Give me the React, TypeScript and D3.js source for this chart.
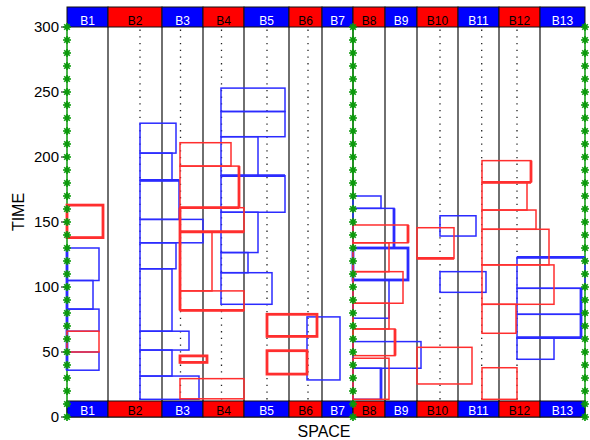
import React from "react";
import * as d3 from "d3";

const width = 590;
const height = 440;
const margin = { top: 27, right: 5, bottom: 23, left: 67 };

// column (bus) names and their edges along SPACE
const columns = ["B1", "B2", "B3", "B4", "B5", "B6", "B7", "B8", "B9", "B10", "B11", "B12", "B13"];
const columnEdges = [0, 41, 95, 136, 177, 222, 255, 286, 318, 350, 391, 432, 473, 518];
const dottedAt = [73, 113.5, 154.5, 200, 241, 373, 414.7, 450];
const greenAt = [0, 286, 518];
const timeTicks = [0, 50, 100, 150, 200, 250, 300];

// boxes: [x0, x1, t0, t1, thick]
const blueBoxes: [number, number, number, number, number][] = [
  [0, 32, 105, 130, 0], [0, 26, 83, 105, 0], [0, 32, 66, 83, 0], [0, 32, 36, 50, 0],
  [73, 109, 203, 226, 0], [73, 105, 182, 203, 0], [73, 112, 152, 182, 0], [73, 136, 134, 152, 0],
  [73, 109, 114, 134, 0], [73, 105, 66, 114, 0], [73, 122, 51.5, 66, 0], [73, 105, 31.5, 51.5, 0],
  [73, 132, 13.6, 31.5, 0],
  [154, 218, 235, 253, 0], [154, 218, 215.6, 235, 0], [154, 191, 185.6, 215.6, 0], [154, 218, 157.5, 185.6, 0],
  [154, 191, 126.5, 157.5, 0], [154, 181, 111, 126.5, 0], [154, 205, 86.7, 111, 0],
  [240, 273, 28.5, 77, 0],
  [286, 314, 160.5, 170, 0], [286, 327, 130, 160.5, 0], [286, 341, 105.4, 130, 1], [286, 322, 76, 105.4, 0],
  [286, 354, 37.5, 58, 0], [286, 314, 13.6, 37.5, 0],
  [373, 409, 139.2, 154.8, 0], [373, 419, 95.9, 111.8, 0],
  [450, 518, 99, 122.8, 0], [450, 514, 79, 99, 0], [450, 514, 61, 79, 0], [450, 487, 44.4, 61, 0],
];

const redBoxes: [number, number, number, number, number][] = [
  [0, 32, 50, 66, 0], [0, 36, 138, 163, 1],
  [113, 164, 193, 211, 0], [113, 172, 161, 193, 0], [113, 177, 142.5, 161, 0], [113, 145, 97, 142.5, 0],
  [113, 177, 82, 97, 0], [113, 140, 42, 47, 1], [113, 177, 14, 29.5, 0],
  [200, 250, 62, 79, 1], [200, 240, 33, 51, 1],
  [286, 341, 134, 147.7, 0], [286, 322, 111.8, 134, 0], [286, 336, 87.5, 111.8, 0], [286, 322, 67.7, 87.5, 0],
  [286, 328, 47.2, 67.7, 0], [286, 322, 13.6, 45.2, 0],
  [350, 387, 122, 145.6, 0], [350, 405, 25.4, 53.6, 0],
  [415, 464, 180.5, 197.2, 0], [415, 460, 159.2, 180.5, 0], [415, 469, 144.4, 159.2, 0], [415, 482, 117, 144.4, 0],
  [415, 487, 86.7, 117, 0], [415, 449, 64.4, 86.7, 0], [415, 450, 13.6, 37.9, 0],
];

// heavier edges: [x0, x1, t0, t1]
const blueThick: [number, number, number, number][] = [
  [73, 112, 182, 182], [154, 218, 185.6, 185.6], [327, 327, 130, 160.5], [314, 314, 13.6, 37.5],
  [450, 518, 122.8, 122.8], [450, 514, 61, 61], [514, 514, 61, 99], [0, 0, 36, 130],
];
const redThick: [number, number, number, number][] = [
  [113, 172, 161, 161], [172, 172, 161, 193], [113, 177, 142.5, 142.5], [113, 177, 82, 82], [113, 113, 82, 161],
  [341, 341, 134, 147.7], [328, 328, 47.2, 67.7], [350, 387, 122, 122], [415, 464, 180.5, 180.5],
  [464, 464, 180.5, 197.2],
];

const BLUE = "#0000ff";
const RED = "#ff0000";
const LINE_BLUE = "#2b2bff";
const LINE_RED = "#ff2e2e";
const GREEN = "#0c9a0c";
const font = "Liberation Sans, Arial, Helvetica, sans-serif";

const Star = ({ x, y }: { x: number; y: number }) => {
  const r = 3.9;
  const arms = d3.range(4).map((i) => (i * Math.PI) / 4);
  return (
    <g>
      {arms.map((a, i) => (
        <line key={i} x1={x - r * Math.cos(a)} y1={y - r * Math.sin(a)} x2={x + r * Math.cos(a)} y2={y + r * Math.sin(a)}
          stroke={GREEN} strokeWidth={1.7} />
      ))}
      <circle cx={x} cy={y} r={1.8} fill={GREEN} />
    </g>
  );
};

export default function App() {
  const x = d3.scaleLinear().domain([0, 518]).range([margin.left, width - margin.right]);
  const y = d3.scaleLinear().domain([0, 300]).range([height - margin.bottom, margin.top]);

  const bandTop = [y(300) - 20, y(300)];
  const bandBottom = [y(0) - 16, y(0)];
  const starTicks = d3.range(0, 301, 10);

  const box = (b: number[], color: string, i: number) => (
    <rect key={i} x={x(b[0])} y={y(b[3])} width={x(b[1]) - x(b[0])} height={y(b[2]) - y(b[3])}
      fill="none" stroke={color} strokeWidth={b[4] ? 2.8 : 1.5} />
  );
  const seg = (s: number[], color: string, i: number) => (
    <line key={i} x1={x(s[0])} x2={x(s[1])} y1={y(s[2])} y2={y(s[3])} stroke={color} strokeWidth={2.8} />
  );

  return (
    <div style={{ position: "absolute", left: 0, top: 0 }}>
      <svg width={width} height={height} style={{ display: "block" }}>
        <rect width="100%" height="100%" fill="white" />

        {/* column separators */}
        {columnEdges.slice(1, -1).map((e, i) => (
          <line key={i} x1={x(e)} x2={x(e)} y1={y(300)} y2={y(0)} stroke="#222" strokeWidth={1.3} />
        ))}
        {dottedAt.map((d, i) => (
          <line key={i} x1={x(d)} x2={x(d)} y1={y(298)} y2={y(10)} stroke="#222" strokeWidth={1.3}
            strokeDasharray="1.3,5.4" />
        ))}

        {/* bottom frame */}
        <line x1={x(0)} x2={x(518)} y1={y(0)} y2={y(0)} stroke="black" strokeWidth={1.2} />

        {/* green guides */}
        {greenAt.map((g, i) => (
          <line key={i} x1={x(g)} x2={x(g)} y1={y(300)} y2={y(0)} stroke={GREEN} strokeWidth={1.5} />
        ))}

        {blueBoxes.map((b, i) => box(b, LINE_BLUE, i))}
        {blueThick.map((s, i) => seg(s, LINE_BLUE, i))}
        {redBoxes.map((b, i) => box(b, LINE_RED, i))}
        {redThick.map((s, i) => seg(s, LINE_RED, i))}

        {/* bus bands */}
        {[bandTop, bandBottom].map((band, k) => (
          <g key={k}>
            {columns.map((c, i) => {
              const isBlue = i % 2 === 0;
              const x0 = x(columnEdges[i]);
              const x1 = x(columnEdges[i + 1]);
              return (
                <g key={c}>
                  <rect x={x0} y={band[0]} width={x1 - x0} height={band[1] - band[0]}
                    fill={isBlue ? BLUE : RED} stroke="#111" strokeWidth={1} />
                  <text x={(x0 + x1) / 2} y={band[1] - 2.5} textAnchor="middle" fontSize={12} fontFamily={font}
                    fill={isBlue ? "white" : "black"}>{c}</text>
                </g>
              );
            })}
          </g>
        ))}

        {/* axis ticks */}
        {timeTicks.map((t) => (
          <g key={t}>
            <line x1={x(0) - 6} x2={x(0)} y1={y(t)} y2={y(t)} stroke="black" strokeWidth={1} />
            <text x={x(0) - 8} y={y(t) + 5} textAnchor="end" fontSize={15} fontFamily={font}>{t}</text>
          </g>
        ))}

        {greenAt.map((g) => starTicks.map((t) => <Star key={`${g}-${t}`} x={x(g)} y={y(t)} />))}

        <text x={(x(0) + x(518)) / 2 - 2} y={437} textAnchor="middle" fontSize={16} fontFamily={font}>SPACE</text>
        <text transform={`translate(23.5, ${(y(0) + y(300)) / 2 - 10}) rotate(-90)`} textAnchor="middle"
          fontSize={16} fontFamily={font}>TIME</text>
      </svg>
    </div>
  );
}
